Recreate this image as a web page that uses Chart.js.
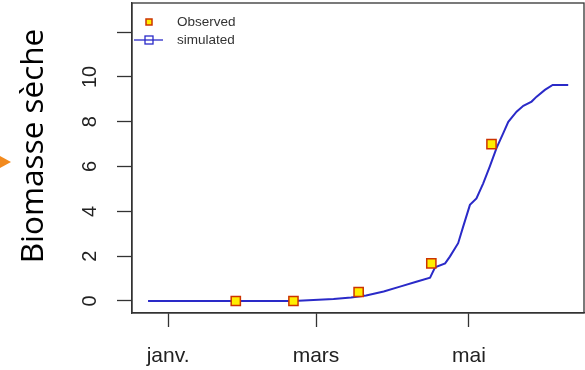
<!DOCTYPE html>
<html>
<head>
<meta charset="utf-8">
<script src="https://cdn.jsdelivr.net/npm/chart.js@4/dist/chart.umd.min.js"></script>
<style>
  html, body { margin: 0; padding: 0; background: #fff; }
  #wrap { width: 585px; height: 370px; position: relative; }
</style>
</head>
<body>
<div id="wrap"><canvas id="chart"></canvas></div>
<script>
// days counted from 1 Jan (0 = janv.)
const obsDays = [27, 50, 76, 105, 129];
const obsValues = [0, 0, 0.4, 1.68, 7.0];

const simDays = [-8, 50, 58, 66, 73, 79, 86, 92.5, 99, 104.5, 106.5, 110.5, 112.4, 115.7, 117.7,
    120.4, 123, 125.7, 128.3, 131, 133.7, 135.7, 139, 141.7, 145, 147, 150.3, 153.4, 159.6];
const simValues = [0, 0, 0.04, 0.09, 0.16, 0.25, 0.42, 0.64, 0.86, 1.04, 1.5, 1.68, 1.98, 2.58, 3.32,
    4.29, 4.58, 5.25, 6.0, 6.82, 7.49, 8.0, 8.45, 8.71, 8.9, 9.12, 9.42, 9.64, 9.64];

const xTickDays = [0, 59, 120];
const xTickLabels = ['janv.', 'mars', 'mai'];
const yTickValues = [0, 2, 4, 6, 8, 10, 12];
const yTickLabels = ['0', '2', '4', '6', '8', '10', ''];

const seriesNames = ['Observed', 'simulated'];
const yTitle = 'Biomasse sèche';

const lineBlue = '#2a2ac8';
const markFill = '#ffee00';
const markEdge = '#cc3300';

// box around the plot, like R's box()
const boxPlugin = {
    id: 'box',
    afterDraw(chart) {
        const { ctx, chartArea: a } = chart;
        ctx.save();
        ctx.strokeStyle = '#333';
        ctx.lineWidth = 1.3;
        ctx.strokeRect(a.left, a.top, a.right - a.left, a.bottom - a.top);
        ctx.restore();
    }
};

// legend in the top-left corner of the plot, plus the axis title
const extrasPlugin = {
    id: 'extras',
    afterDraw(chart) {
        const { ctx, chartArea: a } = chart;
        ctx.save();
        // observed key
        ctx.fillStyle = markFill;
        ctx.strokeStyle = markEdge;
        ctx.lineWidth = 1.5;
        ctx.fillRect(a.left + 14, 19, 6, 6);
        ctx.strokeRect(a.left + 14, 19, 6, 6);
        // simulated key
        ctx.strokeStyle = lineBlue;
        ctx.lineWidth = 1.3;
        ctx.beginPath();
        ctx.moveTo(a.left + 2, 40);
        ctx.lineTo(a.left + 31, 40);
        ctx.stroke();
        ctx.strokeRect(a.left + 13, 36, 8, 8);

        ctx.fillStyle = '#333';
        ctx.font = '13.5px "Liberation Sans", Arial, sans-serif';
        ctx.textBaseline = 'middle';
        ctx.fillText(seriesNames[0], a.left + 45, 22);
        ctx.fillText(seriesNames[1], a.left + 45, 40);

        // y title
        ctx.translate(34, 146);
        ctx.rotate(-Math.PI / 2);
        ctx.fillStyle = '#000';
        ctx.font = '31.5px "Open Sans", sans-serif';
        ctx.textAlign = 'center';
        ctx.textBaseline = 'middle';
        ctx.fillText(yTitle, 0, 0);
        ctx.restore();

        // orange arrow tip at the left edge
        ctx.save();
        ctx.fillStyle = '#f28a1e';
        ctx.beginPath();
        ctx.moveTo(0, 156);
        ctx.lineTo(11, 162);
        ctx.lineTo(0, 168);
        ctx.closePath();
        ctx.fill();
        ctx.restore();
    }
};

Chart.defaults.animation = false;

new Chart(document.getElementById('chart'), {
    type: 'scatter',
    data: {
        datasets: [
            {
                label: seriesNames[0],
                data: obsDays.map((d, i) => ({ x: d, y: obsValues[i] })),
                pointStyle: 'rect',
                pointRadius: 6.5,
                pointBackgroundColor: markFill,
                pointBorderColor: markEdge,
                pointBorderWidth: 1.5,
                order: 0
            },
            {
                label: seriesNames[1],
                data: simDays.map((d, i) => ({ x: d, y: simValues[i] })),
                showLine: true,
                borderColor: lineBlue,
                borderWidth: 2,
                pointRadius: 0,
                tension: 0,
                order: 1
            }
        ]
    },
    options: {
        responsive: true,
        maintainAspectRatio: false,
        layout: { autoPadding: false, padding: { top: 3, right: 1, left: 0, bottom: 0 } },
        plugins: {
            legend: { display: false },
            tooltip: { enabled: false }
        },
        scales: {
            x: {
                type: 'linear',
                min: -14.4,
                max: 165.9,
                afterBuildTicks: (s) => { s.ticks = xTickDays.map(v => ({ value: v })); },
                afterFit: (s) => {
                    s.height = 57;
                    s.paddingLeft = 0;
                    s.paddingRight = 0;
                },
                grid: { drawOnChartArea: false, tickLength: 14, tickColor: '#333', tickWidth: 1.3 },
                border: { display: true, color: '#333', width: 1.3 },
                ticks: {
                    autoSkip: false,
                    maxRotation: 0,
                    padding: 17,
                    color: '#222',
                    font: { family: '"Liberation Sans", Arial, sans-serif', size: 21 },
                    callback: (v, i) => xTickLabels[i]
                }
            },
            y: {
                min: -0.536,
                max: 13.3,
                afterBuildTicks: (s) => { s.ticks = yTickValues.map(v => ({ value: v })); },
                afterFit: (s) => {
                    s.width = 132;
                    s.paddingTop = 0;
                    s.paddingBottom = 0;
                },
                grid: { drawOnChartArea: false, tickLength: 15, tickColor: '#333', tickWidth: 1.3 },
                border: { display: true, color: '#333', width: 1.3 },
                ticks: {
                    autoSkip: false,
                    minRotation: 90,
                    maxRotation: 90,
                    crossAlign: 'center',
                    padding: 15,
                    color: '#222',
                    font: { family: '"Liberation Sans", Arial, sans-serif', size: 20 },
                    callback: (v, i) => yTickLabels[i]
                }
            }
        }
    },
    plugins: [boxPlugin, extrasPlugin]
});
</script>
</body>
</html>
